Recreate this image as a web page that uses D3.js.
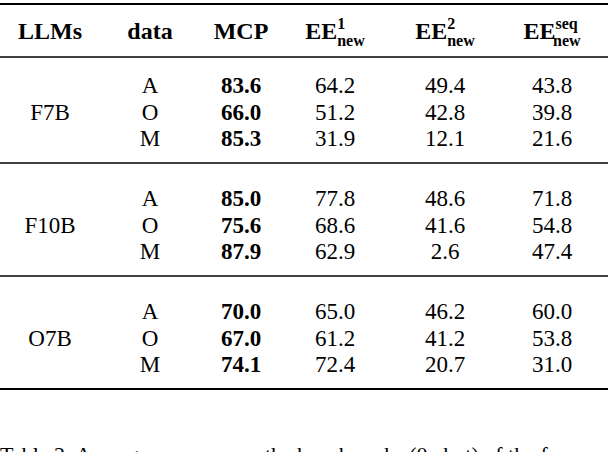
<!DOCTYPE html><html><head><meta charset="utf-8"><script src="https://cdn.jsdelivr.net/npm/d3@7"></script>
<style>body{margin:0;background:#fff}svg{display:block}text{font-family:"Liberation Serif","Times New Roman",serif;fill:#000}</style></head><body><svg width="608" height="452"></svg><script>
const models=["F7B","F10B","O7B"];
const dataTypes=["A","O","M"];
const mcp=[[83.6,66.0,85.3],[85.0,75.6,87.9],[70.0,67.0,74.1]];
const ee1=[[64.2,51.2,31.9],[77.8,68.6,62.9],[65.0,61.2,72.4]];
const ee2=[[49.4,42.8,12.1],[48.6,41.6,2.6],[46.2,41.2,20.7]];
const eeseq=[[43.8,39.8,21.6],[71.8,54.8,47.4],[60.0,53.8,31.0]];
const headers=["LLMs","data","MCP","EE","EE","EE"];
const sups=[null,null,null,"1","2","seq"];
const svg=d3.select("svg");
const x=d3.scaleOrdinal().domain(d3.range(6)).range([50,150,241,335,445,552]);
const gy=d3.scaleLinear().domain([0,1]).range([58,171]);
const rowY=(g,r)=>gy(g)+27+r*26.6;
const fs=23;
headers.forEach((h,i)=>{
  const t=svg.append("text").attr("x",x(i)).attr("y",39).attr("text-anchor","middle").attr("font-size",24).attr("font-weight","bold");
  t.append("tspan").text(h);
  if(sups[i]){
    t.append("tspan").attr("font-size",16).attr("dy",-10).text(sups[i]);
    t.append("tspan").attr("font-size",16).attr("dx",-(sups[i].length*8.2)).attr("dy",17).text("new");
  }
});
[[4,2.2],[57,1.3],[163,1.3],[276,1.3],[389,2.2]].forEach(([y,w])=>svg.append("line").attr("x1",0).attr("x2",608).attr("y1",y).attr("y2",y).attr("stroke","#000").attr("stroke-width",w));
models.forEach((m,g)=>{
  svg.append("text").attr("x",x(0)).attr("y",rowY(g,1)+8).attr("text-anchor","middle").attr("font-size",fs).text(m);
  dataTypes.forEach((d,r)=>{
    const y=rowY(g,r)+8;
    const vals=[d,mcp[g][r].toFixed(1),ee1[g][r].toFixed(1),ee2[g][r].toFixed(1),eeseq[g][r].toFixed(1)];
    vals.forEach((v,c)=>svg.append("text").attr("x",x(c+1)).attr("y",y).attr("text-anchor","middle").attr("font-size",fs).attr("font-weight",c===1?"bold":"normal").text(v));
  });
});
svg.append("text").attr("x",0).attr("y",462).attr("font-size",22).text("Table 2: Average accuracy on the benchmarks (0-shot) of the f");
</script></body></html>
